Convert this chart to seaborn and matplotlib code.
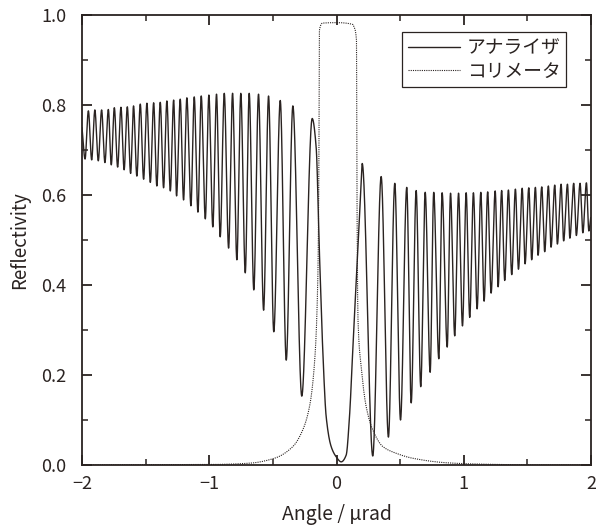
import numpy as np
import pandas as pd
import matplotlib
matplotlib.use("Agg")
import matplotlib.pyplot as plt
import seaborn as sns

# Analyzer reflectivity: fringe maxima and minima (angle in µrad, reflectivity)
ana_peak_x = [-1.950, -1.899, -1.846, -1.793, -1.746, -1.694, -1.644, -1.595, -1.542, -1.490,
              -1.437, -1.385, -1.333, -1.280, -1.228, -1.176, -1.118, -1.063, -1.003, -0.943,
              -0.882, -0.817, -0.752, -0.686, -0.613, -0.534, -0.442, -0.343, -0.191,
              0.202, 0.351, 0.458, 0.552, 0.626, 0.697, 0.764, 0.830, 0.896, 0.959,
              1.019, 1.076, 1.134, 1.188, 1.247, 1.298, 1.351, 1.406, 1.459, 1.511,
              1.563, 1.613, 1.665, 1.715, 1.765, 1.815, 1.864, 1.914, 1.964]
ana_peak_y = [0.787, 0.789, 0.789, 0.790, 0.794, 0.795, 0.796, 0.798, 0.802, 0.804,
              0.805, 0.806, 0.809, 0.811, 0.813, 0.816, 0.818, 0.820, 0.822, 0.824,
              0.826, 0.826, 0.826, 0.826, 0.824, 0.820, 0.810, 0.798, 0.770,
              0.670, 0.641, 0.626, 0.617, 0.610, 0.606, 0.606, 0.605, 0.604, 0.604,
              0.605, 0.605, 0.606, 0.607, 0.609, 0.610, 0.611, 0.613, 0.615, 0.616,
              0.617, 0.618, 0.620, 0.622, 0.624, 0.624, 0.626, 0.626, 0.627]

ana_trough_x = [-1.976, -1.924, -1.872, -1.820, -1.770, -1.720, -1.669, -1.618, -1.569, -1.516,
                -1.463, -1.412, -1.359, -1.306, -1.257, -1.202, -1.144, -1.089, -1.031, -0.972,
                -0.914, -0.848, -0.783, -0.717, -0.650, -0.573, -0.493, -0.395, -0.273,
                0.285, 0.408, 0.503, 0.587, 0.662, 0.736, 0.804, 0.870, 0.929, 0.990,
                1.047, 1.105, 1.160, 1.215, 1.270, 1.322, 1.377, 1.430, 1.482, 1.534,
                1.584, 1.636, 1.686, 1.736, 1.785, 1.834, 1.885, 1.936, 1.983]
ana_trough_y = [0.680, 0.678, 0.676, 0.672, 0.667, 0.662, 0.656, 0.648, 0.642, 0.635,
                0.628, 0.620, 0.616, 0.609, 0.598, 0.589, 0.576, 0.562, 0.547, 0.529,
                0.507, 0.482, 0.456, 0.427, 0.389, 0.344, 0.296, 0.233, 0.153,
                0.020, 0.062, 0.100, 0.138, 0.174, 0.206, 0.236, 0.262, 0.287, 0.309,
                0.328, 0.347, 0.364, 0.382, 0.396, 0.410, 0.423, 0.435, 0.447, 0.456,
                0.466, 0.474, 0.484, 0.491, 0.498, 0.504, 0.510, 0.516, 0.520]

# Central dip of the analyzer curve and the curve ends
ana_center_x = [-2.000, -0.160, -0.134, -0.108, -0.081, -0.042, -0.002, 0.037, 0.076,
                0.102, 0.128, 0.167, 0.194, 1.998]
ana_center_y = [0.750, 0.707, 0.470, 0.256, 0.107, 0.041, 0.018, 0.007, 0.022,
                0.107, 0.256, 0.478, 0.626, 0.550]

# Collimator reflectivity
col_x = [-2.000, -1.000, -0.683, -0.487, -0.343, -0.265, -0.212, -0.173, -0.147, -0.139,
         -0.134, -0.108, 0.000, 0.128, 0.134, 0.157, 0.161, 0.169, 0.194, 0.233,
         0.285, 0.364, 0.469, 0.599, 0.862, 1.123, 1.650, 2.000]
col_y = [0.000, 0.001, 0.004, 0.015, 0.041, 0.078, 0.130, 0.226, 0.411, 0.633,
         0.967, 0.982, 0.983, 0.979, 0.976, 0.944, 0.589, 0.322, 0.218, 0.130,
         0.078, 0.041, 0.026, 0.015, 0.005, 0.002, 0.000, 0.000]

x_ticks = [-2, -1, 0, 1, 2]
x_tick_labels = ["\u22122", "\u22121", "0", "1", "2"]
y_ticks = [0.0, 0.2, 0.4, 0.6, 0.8, 1.0]
labels = ["アナライザ", "コリメータ"]


def smooth_curve(x, y, num=6000):
    """Monotone cubic (PCHIP) line through the given points, for a smooth trace."""
    x = np.asarray(x, float)
    y = np.asarray(y, float)
    h = np.diff(x)
    d = np.diff(y) / h
    m = np.zeros_like(y)
    m[0], m[-1] = d[0], d[-1]
    for k in range(1, len(x) - 1):
        if d[k - 1] * d[k] > 0:
            w1 = 2 * h[k] + h[k - 1]
            w2 = h[k] + 2 * h[k - 1]
            m[k] = (w1 + w2) / (w1 / d[k - 1] + w2 / d[k])
    xs = np.linspace(x[0], x[-1], num)
    idx = np.clip(np.searchsorted(x, xs) - 1, 0, len(x) - 2)
    t = (xs - x[idx]) / h[idx]
    h00 = 2 * t**3 - 3 * t**2 + 1
    h10 = t**3 - 2 * t**2 + t
    h01 = -2 * t**3 + 3 * t**2
    h11 = t**3 - t**2
    ys = (h00 * y[idx] + h10 * h[idx] * m[idx]
          + h01 * y[idx + 1] + h11 * h[idx] * m[idx + 1])
    return xs, ys


ana = pd.DataFrame({
    "angle": ana_peak_x + ana_trough_x + ana_center_x,
    "refl": ana_peak_y + ana_trough_y + ana_center_y,
}).sort_values("angle")
ana_sx, ana_sy = smooth_curve(ana["angle"], ana["refl"])
col_sx, col_sy = smooth_curve(col_x, col_y)
ana_line = pd.DataFrame({"angle": ana_sx, "refl": ana_sy})
col_line = pd.DataFrame({"angle": col_sx, "refl": col_sy})

ink = "#2a2321"
sns.set_theme(style="white", rc={
    "axes.edgecolor": ink,
    "axes.linewidth": 1.3,
    "text.color": ink,
    "axes.labelcolor": ink,
    "xtick.color": ink,
    "ytick.color": ink,
})
plt.rcParams["font.family"] = ["Noto Sans CJK JP", "DejaVu Sans"]

W, H = 596, 532
fig = plt.figure(figsize=(W / 100, H / 100), dpi=100)
ax_l, ax_r, ax_t, ax_b = 82, 591, 15, 465
ax = fig.add_axes([ax_l / W, 1 - ax_b / H, (ax_r - ax_l) / W, (ax_b - ax_t) / H])

sns.lineplot(data=ana_line, x="angle", y="refl", ax=ax, color=ink, linewidth=1.0,
             estimator=None, sort=False, label=labels[0])
sns.lineplot(data=col_line, x="angle", y="refl", ax=ax, color=ink, linewidth=0.8,
             estimator=None, sort=False, label=labels[1])
ax.lines[1].set_linestyle((0, (1, 1)))

ax.set_xlim(-2, 2)
ax.set_ylim(0, 1)
ax.set_xticks(x_ticks)
ax.set_xticklabels(x_tick_labels)
ax.set_yticks(y_ticks)
ax.set_yticklabels([f"{v:.1f}" for v in y_ticks])
ax.xaxis.set_minor_locator(matplotlib.ticker.MultipleLocator(0.5))
ax.yaxis.set_minor_locator(matplotlib.ticker.MultipleLocator(0.1))

# inward tick marks on all four sides
ax.tick_params(which="both", direction="in", color=ink,
               bottom=True, top=True, left=True, right=True)
ax.tick_params(which="major", length=7, width=1.3, labelsize=13)
ax.tick_params(which="minor", length=4.5, width=1.1)
ax.tick_params(axis="y", which="major", pad=11)
ax.tick_params(axis="x", which="major", pad=7)

ax.set_xlabel("Angle / μrad", fontsize=14, labelpad=8)
ax.set_ylabel("Reflectivity", fontsize=13.5, labelpad=8)

leg = ax.legend(loc="upper right", bbox_to_anchor=(0.951, 0.962), fontsize=13.5,
                handlelength=2.8, handletextpad=0.35, borderpad=0.3,
                labelspacing=0.1, borderaxespad=0, fancybox=False, framealpha=1,
                edgecolor=ink)
leg.get_frame().set_linewidth(0.9)

fig.savefig("out.png", dpi=100, facecolor="white")
